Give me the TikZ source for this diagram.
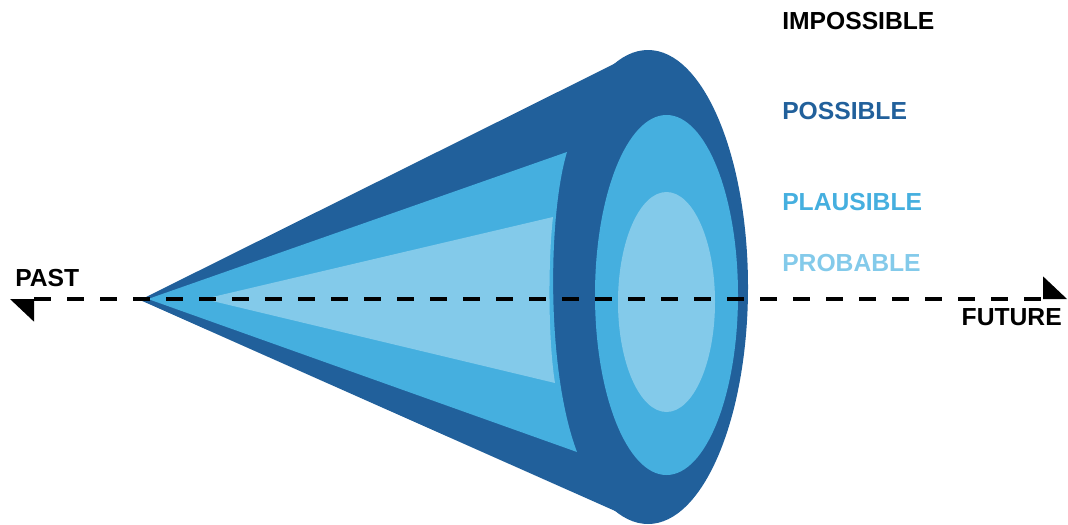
\documentclass[tikz,border=0pt]{standalone}
\usepackage{fontspec}
\setmainfont{Liberation Sans}
\usetikzlibrary{arrows.meta}

\definecolor{conedark}{HTML}{21609B}
\definecolor{conemid}{HTML}{45AFDF}
\definecolor{conelight}{HTML}{83CAEA}

\newcommand*{\axisy}{299}
\newcommand*{\tagx}{782}

\begin{document}
\begin{tikzpicture}
[
	x=0.75pt, y=-0.75pt,
	tagtext/.style={font=\fontsize{18.5}{22}\selectfont\bfseries, inner sep=0pt, anchor=west},
	timeline/.style={line width=3.6pt, dash pattern=on 12.75pt off 12pt,
		{Triangle[harpoon,length=18pt,width=34pt,line width=0pt]}-{Triangle[harpoon,length=18pt,width=34pt,line width=0pt]}},
]

	\useasboundingbox (0,0) rectangle (1068,525);

	% outer cone
	\fill[conedark] (140,300) -- (620,61) -- (622,514) -- cycle;
	\fill[conedark] (648,287) ellipse [x radius=100, y radius=237];

	% middle cone
	\fill[conemid] (148,299) -- (567,152) .. controls (548,215) and (546,370) .. (577,452) -- cycle;
	\fill[conemid] (666.5,295) ellipse [x radius=71.5, y radius=180];

	% inner cone
	\fill[conelight] (204,299) -- (553,217) .. controls (548,260) and (548,340) .. (555,383) -- cycle;
	\fill[conelight] (666.5,302) ellipse [x radius=48.5, y radius=110];

	% time axis
	\coordinate (pastend) at (10,\axisy);
	\coordinate (futureend) at (1067,\axisy);
	\draw[timeline] (pastend) -- (futureend);

	% labels
	\node[tagtext] (impossible) at (\tagx,21) {IMPOSSIBLE};
	\node[tagtext, text=conedark] (possible) at (\tagx,111) {POSSIBLE};
	\node[tagtext, text=conemid] (plausible) at (\tagx,202) {PLAUSIBLE};
	\node[tagtext, text=conelight] (probable) at (\tagx,263) {PROBABLE};
	\node[tagtext] (past) at (15,278) {PAST};
	\node[tagtext, anchor=east] (future) at (1062,317) {FUTURE};

\end{tikzpicture}
\end{document}
